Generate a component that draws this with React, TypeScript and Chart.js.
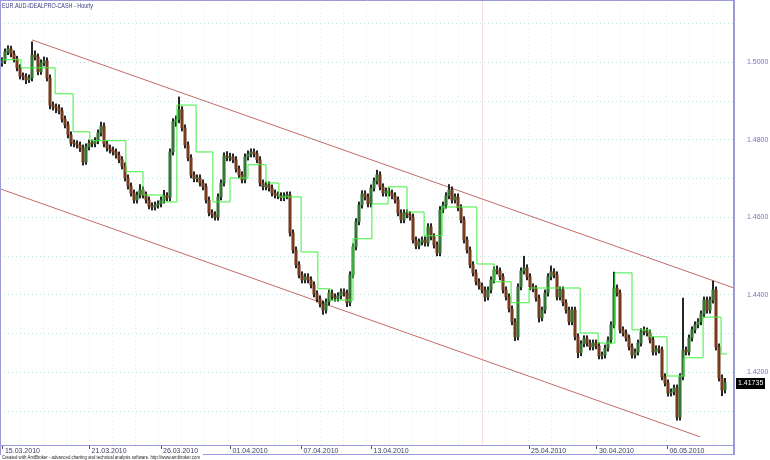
import { useEffect, useRef } from 'react';
import { Chart, registerables } from 'chart.js';

Chart.register(...registerables);

const chartTitle = 'EUR.AUD-IDEALPRO-CASH - Hourly';
const footerText = 'Created with AmiBroker - advanced charting and technical analysis software. http://www.amibroker.com';

// Hourly-ish candles (one per bar index)
const opens = [1.4998,1.5004,1.5027,1.5035,1.5022,1.5009,1.4986,1.4965,1.4963,1.4955,
1.4960,1.5019,1.5014,1.4976,1.4999,1.5004,1.4960,1.4890,1.4885,1.4883,
1.4875,1.4854,1.4839,1.4813,1.4792,1.4790,1.4787,1.4779,1.4743,1.4782,
1.4792,1.4790,1.4798,1.4818,1.4836,1.4790,1.4779,1.4774,1.4769,1.4761,
1.4749,1.4733,1.4702,1.4681,1.4663,1.4645,1.4658,1.4671,1.4658,1.4645,
1.4630,1.4627,1.4632,1.4635,1.4645,1.4656,1.4651,1.4769,1.4847,1.4852,
1.4878,1.4831,1.4787,1.4754,1.4710,1.4700,1.4702,1.4689,1.4679,1.4645,
1.4612,1.4607,1.4601,1.4653,1.4689,1.4759,1.4754,1.4756,1.4749,1.4725,
1.4710,1.4697,1.4756,1.4764,1.4769,1.4764,1.4749,1.4689,1.4679,1.4684,
1.4676,1.4663,1.4658,1.4656,1.4651,1.4656,1.4658,1.4560,1.4516,1.4478,
1.4452,1.4439,1.4447,1.4439,1.4426,1.4403,1.4390,1.4377,1.4361,1.4382,
1.4405,1.4395,1.4392,1.4398,1.4408,1.4405,1.4380,1.4452,1.4524,1.4589,
1.4632,1.4661,1.4653,1.4635,1.4676,1.4694,1.4710,1.4679,1.4663,1.4668,
1.4663,1.4656,1.4645,1.4612,1.4594,1.4612,1.4607,1.4601,1.4542,1.4527,
1.4537,1.4542,1.4534,1.4576,1.4550,1.4529,1.4509,1.4620,1.4632,1.4656,
1.4671,1.4645,1.4653,1.4625,1.4594,1.4542,1.4516,1.4478,1.4457,1.4434,
1.4423,1.4413,1.4395,1.4413,1.4439,1.4465,1.4462,1.4447,1.4413,1.4395,
1.4364,1.4331,1.4292,1.4421,1.4462,1.4470,1.4447,1.4421,1.4416,1.4392,
1.4341,1.4361,1.4405,1.4447,1.4460,1.4452,1.4395,1.4413,1.4380,1.4361,
1.4331,1.4361,1.4292,1.4251,1.4274,1.4287,1.4276,1.4266,1.4276,1.4269,
1.4243,1.4245,1.4263,1.4284,1.4323,1.4418,1.4405,1.4310,1.4302,1.4289,
1.4266,1.4245,1.4253,1.4276,1.4305,1.4307,1.4302,1.4284,1.4253,1.4261,
1.4258,1.4189,1.4173,1.4147,1.4150,1.4160,1.4085,1.4189,1.4258,1.4253,
1.4289,1.4310,1.4323,1.4331,1.4351,1.4387,1.4361,1.4387,1.4413,1.4266,
1.4186,1.4155];

const highs = [1.5012,1.5035,1.5043,1.5042,1.5030,1.5016,1.4994,1.4973,1.4971,1.4968,
1.5053,1.5030,1.5022,1.5007,1.5014,1.5012,1.4968,1.4898,1.4893,1.4891,
1.4883,1.4862,1.4847,1.4821,1.4800,1.4798,1.4795,1.4787,1.4790,1.4800,
1.4800,1.4806,1.4826,1.4846,1.4844,1.4798,1.4787,1.4782,1.4777,1.4769,
1.4757,1.4741,1.4710,1.4689,1.4671,1.4666,1.4685,1.4679,1.4666,1.4653,
1.4638,1.4640,1.4643,1.4653,1.4670,1.4664,1.4777,1.4855,1.4862,1.4911,
1.4886,1.4839,1.4795,1.4762,1.4718,1.4710,1.4710,1.4697,1.4687,1.4653,
1.4620,1.4615,1.4661,1.4697,1.4767,1.4770,1.4766,1.4764,1.4757,1.4733,
1.4718,1.4764,1.4772,1.4777,1.4777,1.4772,1.4757,1.4697,1.4692,1.4692,
1.4684,1.4671,1.4666,1.4664,1.4664,1.4666,1.4666,1.4568,1.4524,1.4486,
1.4460,1.4455,1.4455,1.4447,1.4434,1.4411,1.4398,1.4385,1.4390,1.4413,
1.4413,1.4403,1.4406,1.4416,1.4416,1.4413,1.4460,1.4532,1.4597,1.4640,
1.4669,1.4669,1.4661,1.4684,1.4702,1.4722,1.4718,1.4687,1.4676,1.4676,
1.4671,1.4664,1.4653,1.4620,1.4620,1.4620,1.4615,1.4609,1.4550,1.4545,
1.4550,1.4550,1.4584,1.4584,1.4558,1.4537,1.4628,1.4640,1.4664,1.4685,
1.4679,1.4661,1.4661,1.4633,1.4602,1.4550,1.4524,1.4486,1.4465,1.4442,
1.4431,1.4421,1.4421,1.4447,1.4473,1.4475,1.4470,1.4455,1.4421,1.4403,
1.4372,1.4339,1.4429,1.4470,1.4500,1.4478,1.4455,1.4429,1.4424,1.4400,
1.4369,1.4413,1.4455,1.4475,1.4468,1.4460,1.4421,1.4421,1.4388,1.4369,
1.4369,1.4369,1.4300,1.4282,1.4295,1.4295,1.4284,1.4284,1.4284,1.4277,
1.4253,1.4271,1.4292,1.4331,1.4459,1.4426,1.4413,1.4318,1.4310,1.4297,
1.4274,1.4261,1.4284,1.4313,1.4318,1.4315,1.4310,1.4292,1.4269,1.4269,
1.4266,1.4197,1.4181,1.4158,1.4168,1.4168,1.4197,1.4392,1.4266,1.4297,
1.4318,1.4331,1.4339,1.4359,1.4395,1.4395,1.4395,1.4436,1.4421,1.4274,
1.4194,1.4185];

const lows = [1.4990,1.4997,1.5020,1.5014,1.5001,1.4978,1.4957,1.4955,1.4945,1.4948,
1.4952,1.5006,1.4968,1.4969,1.4991,1.4952,1.4880,1.4877,1.4870,1.4867,
1.4846,1.4831,1.4805,1.4784,1.4782,1.4779,1.4770,1.4735,1.4737,1.4774,
1.4782,1.4782,1.4790,1.4810,1.4782,1.4771,1.4766,1.4761,1.4753,1.4741,
1.4725,1.4694,1.4673,1.4655,1.4637,1.4637,1.4650,1.4650,1.4637,1.4622,
1.4619,1.4619,1.4624,1.4627,1.4637,1.4643,1.4643,1.4761,1.4835,1.4844,
1.4823,1.4779,1.4746,1.4702,1.4692,1.4692,1.4681,1.4671,1.4637,1.4604,
1.4599,1.4593,1.4593,1.4645,1.4681,1.4746,1.4746,1.4741,1.4717,1.4702,
1.4689,1.4689,1.4748,1.4756,1.4756,1.4741,1.4681,1.4671,1.4671,1.4668,
1.4655,1.4650,1.4648,1.4643,1.4643,1.4648,1.4552,1.4508,1.4470,1.4444,
1.4431,1.4431,1.4431,1.4418,1.4395,1.4382,1.4369,1.4350,1.4353,1.4374,
1.4387,1.4384,1.4384,1.4390,1.4397,1.4370,1.4372,1.4444,1.4516,1.4581,
1.4624,1.4645,1.4627,1.4627,1.4668,1.4686,1.4671,1.4655,1.4655,1.4655,
1.4648,1.4637,1.4604,1.4586,1.4586,1.4599,1.4593,1.4534,1.4519,1.4519,
1.4529,1.4526,1.4526,1.4542,1.4521,1.4501,1.4501,1.4612,1.4624,1.4648,
1.4637,1.4637,1.4617,1.4586,1.4534,1.4508,1.4470,1.4449,1.4426,1.4415,
1.4405,1.4384,1.4387,1.4405,1.4431,1.4454,1.4439,1.4405,1.4387,1.4356,
1.4323,1.4282,1.4284,1.4413,1.4454,1.4439,1.4413,1.4408,1.4384,1.4330,
1.4333,1.4353,1.4397,1.4439,1.4444,1.4387,1.4387,1.4372,1.4353,1.4323,
1.4323,1.4284,1.4238,1.4243,1.4266,1.4268,1.4258,1.4258,1.4261,1.4235,
1.4235,1.4237,1.4255,1.4276,1.4315,1.4397,1.4302,1.4294,1.4281,1.4258,
1.4237,1.4237,1.4245,1.4268,1.4297,1.4294,1.4276,1.4245,1.4245,1.4250,
1.4181,1.4165,1.4139,1.4139,1.4142,1.4077,1.4077,1.4181,1.4245,1.4245,
1.4281,1.4302,1.4315,1.4323,1.4343,1.4353,1.4353,1.4379,1.4258,1.4178,
1.4140,1.4147];

const closes = [1.5004,1.5027,1.5035,1.5022,1.5009,1.4986,1.4965,1.4963,1.4955,1.4960,
1.5019,1.5014,1.4976,1.4999,1.5004,1.4960,1.4890,1.4885,1.4883,1.4875,
1.4854,1.4839,1.4813,1.4792,1.4790,1.4787,1.4779,1.4743,1.4782,1.4792,
1.4790,1.4798,1.4818,1.4836,1.4790,1.4779,1.4774,1.4769,1.4761,1.4749,
1.4733,1.4702,1.4681,1.4663,1.4645,1.4658,1.4671,1.4658,1.4645,1.4630,
1.4627,1.4632,1.4635,1.4645,1.4656,1.4651,1.4769,1.4847,1.4852,1.4878,
1.4831,1.4787,1.4754,1.4710,1.4700,1.4702,1.4689,1.4679,1.4645,1.4612,
1.4607,1.4601,1.4653,1.4689,1.4759,1.4754,1.4756,1.4749,1.4725,1.4710,
1.4697,1.4756,1.4764,1.4769,1.4764,1.4749,1.4689,1.4679,1.4684,1.4676,
1.4663,1.4658,1.4656,1.4651,1.4656,1.4658,1.4560,1.4516,1.4478,1.4452,
1.4439,1.4447,1.4439,1.4426,1.4403,1.4390,1.4377,1.4361,1.4382,1.4405,
1.4395,1.4392,1.4398,1.4408,1.4405,1.4380,1.4452,1.4524,1.4589,1.4632,
1.4661,1.4653,1.4635,1.4676,1.4694,1.4710,1.4679,1.4663,1.4668,1.4663,
1.4656,1.4645,1.4612,1.4594,1.4612,1.4607,1.4601,1.4542,1.4527,1.4537,
1.4542,1.4534,1.4576,1.4550,1.4529,1.4509,1.4620,1.4632,1.4656,1.4671,
1.4645,1.4653,1.4625,1.4594,1.4542,1.4516,1.4478,1.4457,1.4434,1.4423,
1.4413,1.4395,1.4413,1.4439,1.4465,1.4462,1.4447,1.4413,1.4395,1.4364,
1.4331,1.4292,1.4421,1.4462,1.4470,1.4447,1.4421,1.4416,1.4392,1.4341,
1.4361,1.4405,1.4447,1.4460,1.4452,1.4395,1.4413,1.4380,1.4361,1.4331,
1.4361,1.4292,1.4251,1.4274,1.4287,1.4276,1.4266,1.4276,1.4269,1.4243,
1.4245,1.4263,1.4284,1.4323,1.4418,1.4405,1.4310,1.4302,1.4289,1.4266,
1.4245,1.4253,1.4276,1.4305,1.4307,1.4302,1.4284,1.4253,1.4261,1.4258,
1.4189,1.4173,1.4147,1.4150,1.4160,1.4085,1.4189,1.4258,1.4253,1.4289,
1.4310,1.4323,1.4331,1.4351,1.4387,1.4361,1.4387,1.4413,1.4266,1.4186,
1.4155,1.41735];

// Green step line: bar index where each level starts (last entry = end) and its level
const stepStarts = [0,6.3,17.7,23.7,29.3,41.3,47,53.7,58.3,64.7,70.3,76,82,88,92.3,99.7,105.3,109.3,117,123.3,128.7,135,140.7,146.7,158.3,164,169.7,175.7,192.7,198.7,204.3,210,216,221.7,227.3,233.7,239.7,241.7];
const stepValues = [1.5007,1.4986,1.4919,1.4821,1.4798,1.4718,1.4658,1.4640,1.4890,1.4769,1.4640,1.4702,1.4736,1.4689,1.4653,1.4511,1.4416,1.4387,1.4545,1.4635,1.4679,1.4614,1.4553,1.4627,1.4480,1.4434,1.4380,1.4418,1.4302,1.4276,1.4457,1.4310,1.4292,1.4191,1.4238,1.4343,1.4248];

// Channel lines (bar index, price)
const upperChannelX = [10, 244];
const upperChannelY = [1.5058, 1.4418];
const lowerChannelX = [-0.67, 232.7];
const lowerChannelY = [1.4674, 1.4034];

// X axis date ticks (bar index) and labels
const dateTickIdx = [0.3, 29.2, 53, 76.2, 99.8, 123.2, 175.7, 198.3, 221.8];
const dateLabels = ['15.03.2010','21.03.2010','26.03.2010','01.04.2010','07.04.2010','13.04.2010','25.04.2010','30.04.2010','06.05.2010'];

// Price grid levels
const priceGrid = [1.41, 1.42, 1.43, 1.44, 1.45, 1.46, 1.47, 1.48, 1.49, 1.50, 1.51];
const markerIndex = 160;

const X_MIN = -0.667;
const X_MAX = 244;
const Y_MIN = 1.4013;
const Y_MAX = 1.5161;

const GRID_COLOR_H = '#bfe4e4';
const GRID_COLOR_V = '#dcefef';
const FRAME_COLOR = '#9a9ad8';

const zeroPad = (s: any) => {
  s.paddingTop = 0; s.paddingBottom = 0; s.paddingLeft = 0; s.paddingRight = 0;
};

const overlayPlugin = {
  id: 'amiOverlay',
  beforeDatasetsDraw(chart: any) {
    const { ctx, chartArea, scales } = chart;
    const x = Math.round(scales.x.getPixelForValue(markerIndex)) + 0.5;
    ctx.save();
    ctx.strokeStyle = '#f8e0e0';
    ctx.lineWidth = 1;
    ctx.beginPath();
    ctx.moveTo(x, chartArea.top);
    ctx.lineTo(x, chartArea.bottom);
    ctx.stroke();
    ctx.restore();
  },
  afterDraw(chart: any) {
    const { ctx, chartArea, scales } = chart;
    const r = chartArea.right;
    const b = chartArea.bottom;
    ctx.save();
    ctx.strokeStyle = FRAME_COLOR;
    ctx.lineWidth = 1;
    ctx.beginPath();
    ctx.moveTo(0.5, 0); ctx.lineTo(0.5, b + 10);
    ctx.moveTo(0, 0.5); ctx.lineTo(r + 1, 0.5);
    ctx.moveTo(0, b + 0.5); ctx.lineTo(r + 1, b + 0.5);
    ctx.moveTo(203, b + 9.5); ctx.lineTo(r + 1, b + 9.5);
    ctx.stroke();
    ctx.lineWidth = 2;
    ctx.beginPath();
    ctx.moveTo(r, 0); ctx.lineTo(r, b + 10);
    ctx.stroke();

    // title
    ctx.fillStyle = '#3a3a82';
    ctx.font = '6.5px Arial';
    ctx.textBaseline = 'alphabetic';
    ctx.textAlign = 'left';
    ctx.fillText(chartTitle, 2, 7.5, 91);

    // footer
    ctx.fillStyle = '#222222';
    ctx.font = '5px Arial';
    ctx.fillText(footerText, 2, 459, 198);

    // last price label
    const last = closes[closes.length - 1];
    const y = scales.y.getPixelForValue(last);
    ctx.fillStyle = '#000000';
    ctx.fillRect(r + 2, Math.round(y) - 5, 29, 11);
    ctx.fillStyle = '#ffffff';
    ctx.font = '7px Arial';
    ctx.textBaseline = 'middle';
    ctx.fillText(last.toFixed(5), r + 4, Math.round(y) + 0.5);
    ctx.restore();
  },
};

export default function App() {
  const ref = useRef<HTMLCanvasElement>(null);
  useEffect(() => {
    if (!ref.current) return;
    const wickData = closes.map((_, i) => ({ x: i, y: [lows[i], highs[i]] }));
    const bodyData = closes.map((c, i) => ({ x: i, y: [opens[i], c] }));
    const bodyColors = closes.map((c, i) => (c >= opens[i] ? '#357535' : '#763a1c'));
    const stepData = stepStarts.map((s, k) => ({ x: s, y: stepValues[Math.min(k, stepValues.length - 1)] }));
    const upper = upperChannelX.map((x, k) => ({ x, y: upperChannelY[k] }));
    const lower = lowerChannelX.map((x, k) => ({ x, y: lowerChannelY[k] }));

    const chart = new Chart(ref.current, {
      type: 'bar',
      data: {
        datasets: [
          {
            type: 'line', data: upper, borderColor: '#c46a6a', borderWidth: 1, pointRadius: 0,
            xAxisID: 'x', yAxisID: 'y', order: 6,
          } as any,
          {
            type: 'line', data: lower, borderColor: '#c46a6a', borderWidth: 1, pointRadius: 0,
            xAxisID: 'x', yAxisID: 'y', order: 6,
          } as any,
          {
            type: 'bar', data: wickData, backgroundColor: '#262626', barThickness: 1.4, grouped: false,
            borderWidth: 0, xAxisID: 'x', yAxisID: 'y', order: 5,
          } as any,
          {
            type: 'bar', data: bodyData, backgroundColor: bodyColors, barThickness: 2.4, grouped: false,
            minBarLength: 1, borderWidth: 0, xAxisID: 'x', yAxisID: 'y', order: 4,
          } as any,
          {
            type: 'line', data: stepData, borderColor: '#3cf03c', borderWidth: 1, pointRadius: 0,
            stepped: true, xAxisID: 'x', yAxisID: 'y', order: 1,
          } as any,
        ],
      },
      options: {
        responsive: false,
        animation: false,
        events: [],
        layout: { padding: 0 },
        plugins: { legend: { display: false }, tooltip: { enabled: false }, title: { display: false } },
        scales: {
          x: {
            type: 'linear',
            position: 'bottom',
            min: X_MIN,
            max: X_MAX,
            offset: false,
            border: { display: false },
            grid: { offset: false, drawOnChartArea: false, drawTicks: true, tickLength: 4, tickColor: '#505050', tickWidth: 1, color: 'transparent' },
            ticks: {
              autoSkip: false, maxRotation: 0, minRotation: 0, align: 'start', labelOffset: 2, padding: -2,
              color: '#3c3c64', font: { family: 'Arial', size: 7 },
              callback: (_v: any, i: number) => dateLabels[i],
            },
            afterBuildTicks: (s: any) => { s.ticks = dateTickIdx.map((v) => ({ value: v })); },
            afterFit: (s: any) => { s.height = 15; zeroPad(s); },
          } as any,
          xg: {
            type: 'linear',
            position: 'bottom',
            min: X_MIN,
            max: X_MAX,
            offset: false,
            border: { display: false, dash: [1, 3] },
            grid: { offset: false, drawOnChartArea: true, drawTicks: false, color: GRID_COLOR_V, lineWidth: 1 },
            ticks: { display: false },
            afterBuildTicks: (s: any) => {
              const t: any[] = [];
              for (let v = 6; v < X_MAX; v += 7.7) t.push({ value: v });
              s.ticks = t;
            },
            afterFit: (s: any) => { s.height = 0; zeroPad(s); },
          } as any,
          y: {
            type: 'linear',
            position: 'right',
            min: Y_MIN,
            max: Y_MAX,
            border: { display: false, dash: [1, 3] },
            grid: { drawOnChartArea: true, drawTicks: false, color: GRID_COLOR_H, lineWidth: 1 },
            ticks: {
              padding: 13, autoSkip: false, color: '#7474c4', font: { family: 'Arial', size: 7 },
              callback: (v: any) => (Math.round(Number(v) * 100) % 2 === 0 ? Number(v).toFixed(4) : ''),
            },
            afterBuildTicks: (s: any) => { s.ticks = priceGrid.map((v) => ({ value: v })); },
            afterFit: (s: any) => { s.width = 36; zeroPad(s); },
          } as any,
        },
      },
      plugins: [overlayPlugin],
    } as any);
    return () => chart.destroy();
  }, []);

  return (
    <div style={{ position: 'fixed', left: 0, top: 0, width: 770, height: 460, background: '#ffffff' }}>
      <canvas ref={ref} width={770} height={460} style={{ display: 'block', width: 770, height: 460 }} />
    </div>
  );
}
